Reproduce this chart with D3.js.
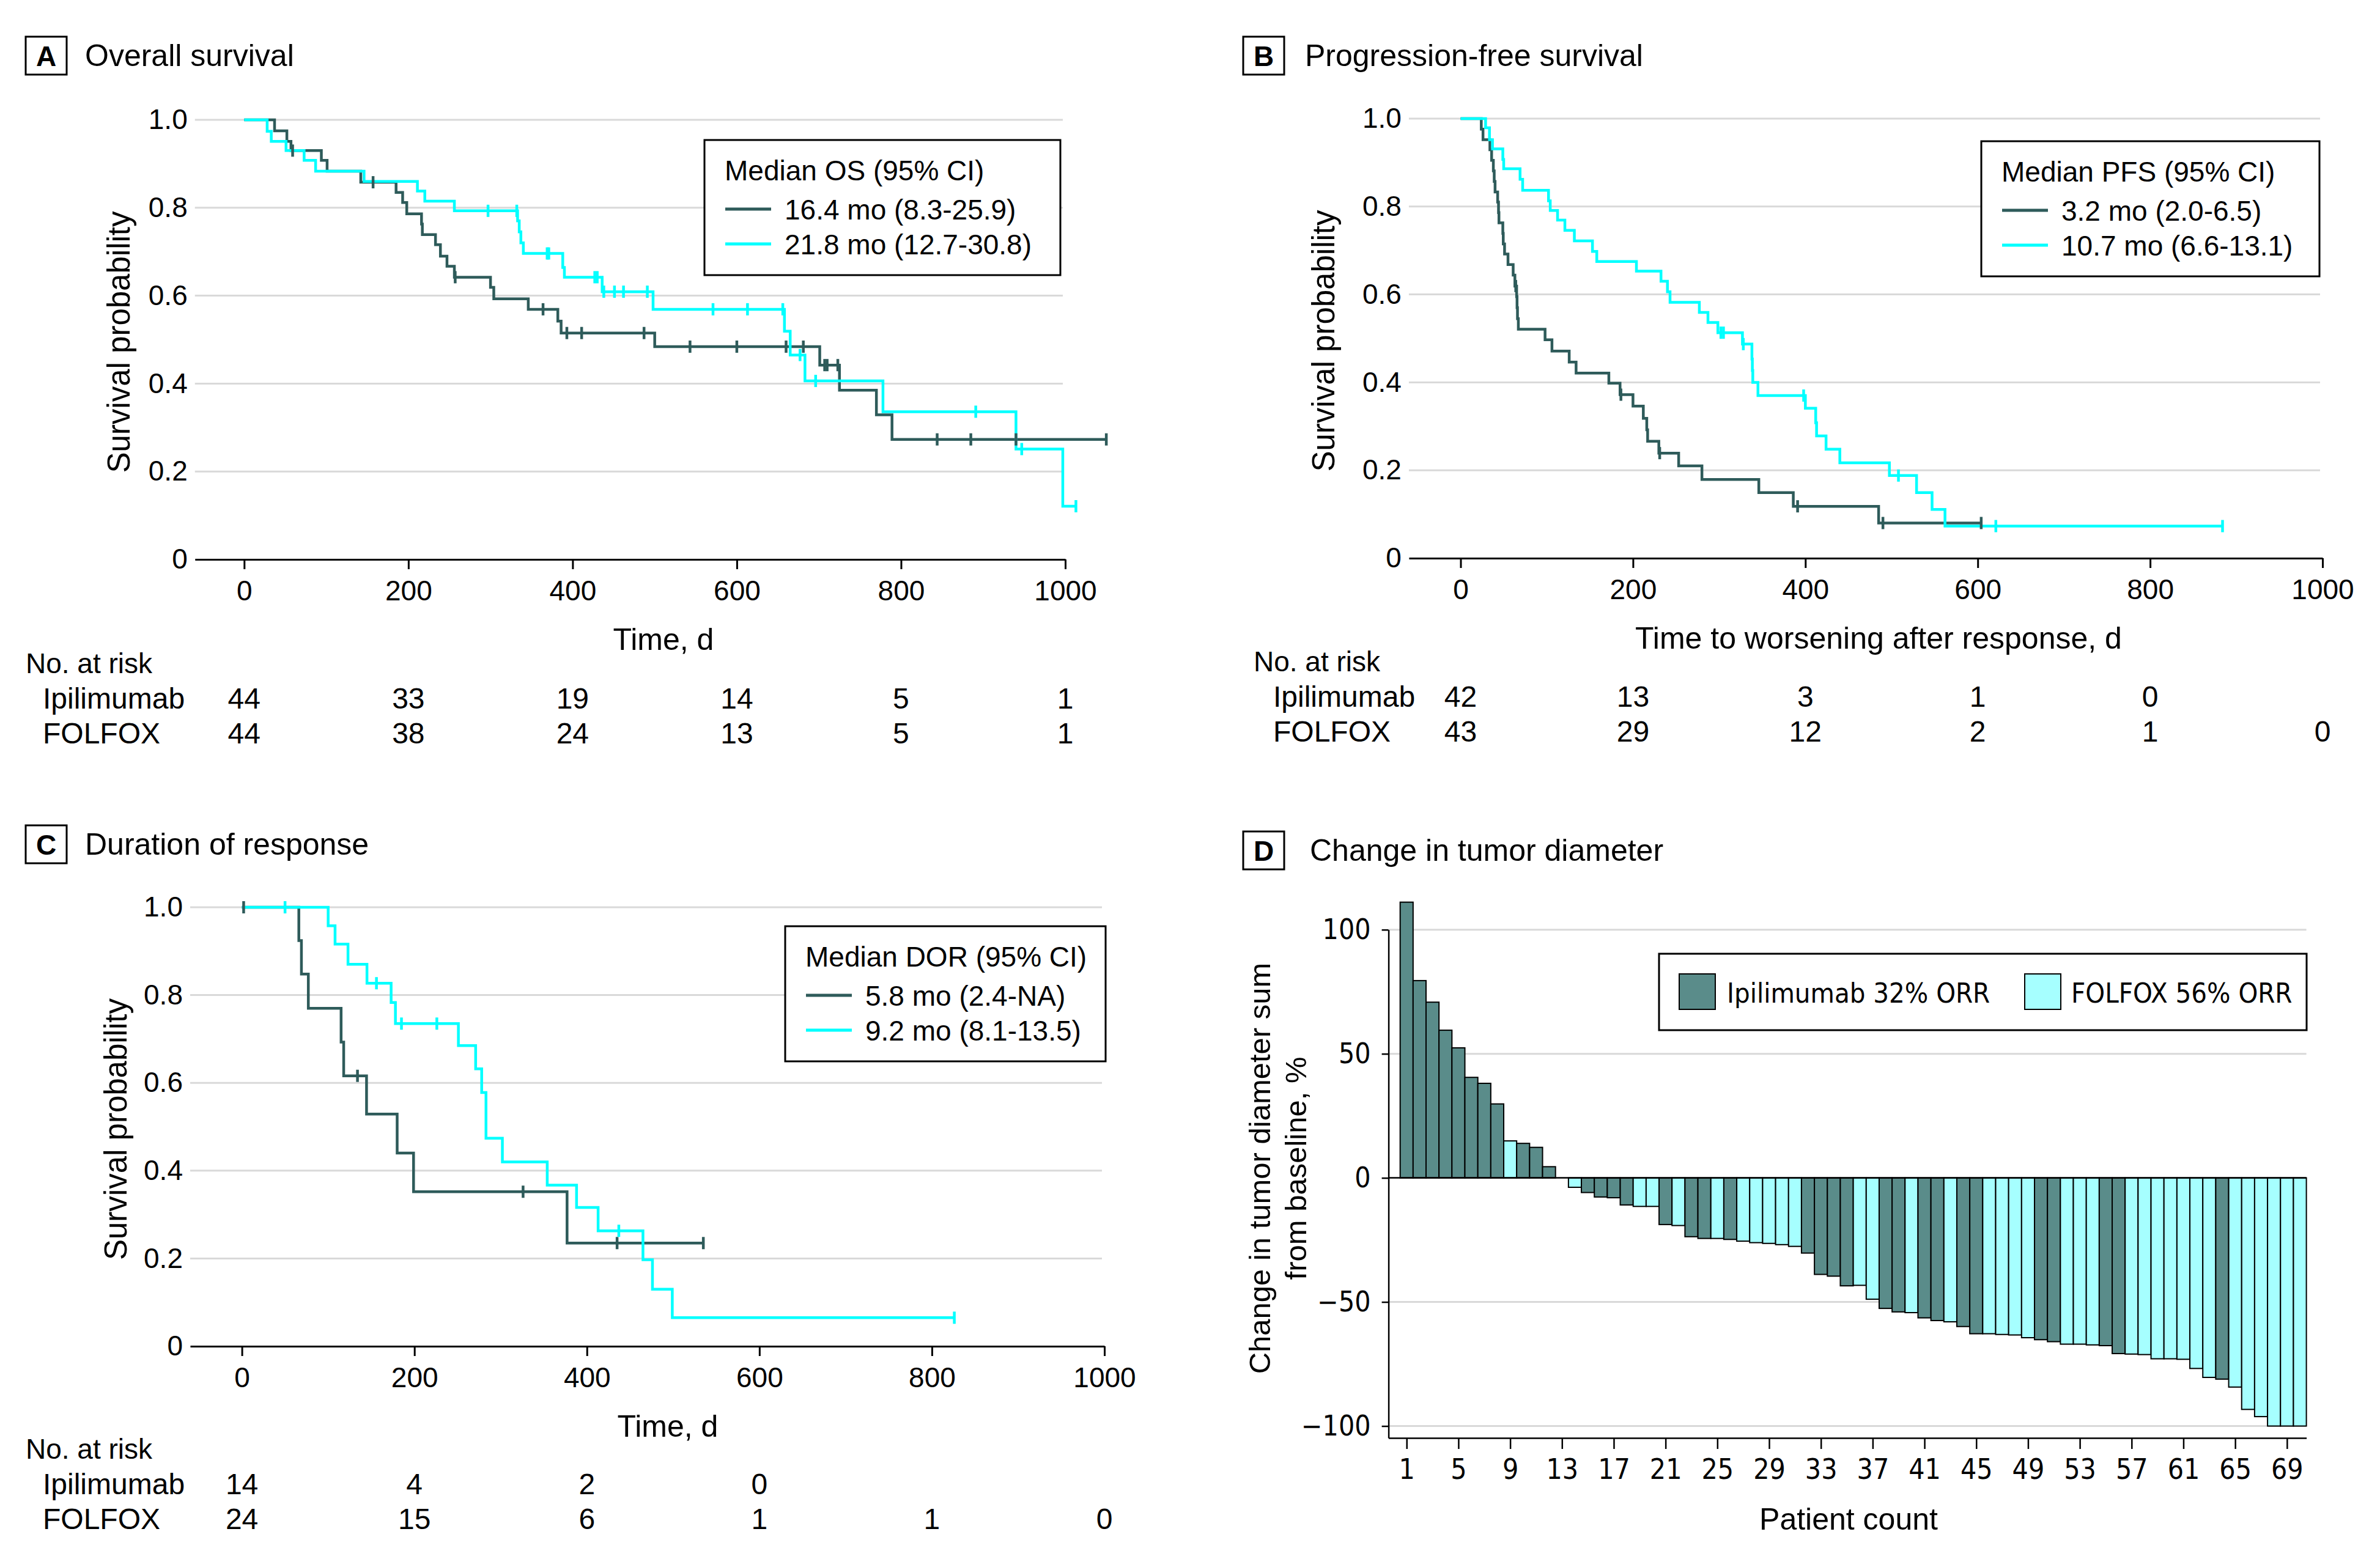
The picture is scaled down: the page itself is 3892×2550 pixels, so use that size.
<!DOCTYPE html>
<html><head><meta charset="utf-8">
<script src="https://cdn.jsdelivr.net/npm/d3@7"></script>
<style>
html,body{margin:0;padding:0;background:#fff;}
svg{display:block;}
</style></head><body>
<svg id="chart" width="3892" height="2550"></svg>
<script>
// ---------------- DATA ----------------
const timeTicks = [0, 200, 400, 600, 800, 1000];
const survTicks = [0, 0.2, 0.4, 0.6, 0.8, 1.0];
const armNames = ["Ipilimumab", "FOLFOX"];

// A: Overall survival
const osIpiTimes = [37,52,57,94,101,142,185,193,198,216,217,233,239,247,256,300,304,346,382,386,500,701,725,770,789];
const osIpiSurv  = [0.975,0.951,0.930,0.908,0.883,0.858,0.835,0.812,0.786,0.763,0.739,0.716,0.690,0.667,0.642,0.619,0.593,0.569,0.542,0.515,0.484,0.442,0.385,0.329,0.273];
const osIpiCensor = [59,157,257,364,393,411,487,543,600,660,681,707,710,723,844,885,940,1050];
const osFolTimes = [28,33,51,73,87,146,211,220,256,333,335,337,340,388,390,436,498,658,665,683,778,940,997];
const osFolSurv  = [0.974,0.951,0.930,0.908,0.883,0.860,0.838,0.815,0.793,0.770,0.745,0.720,0.696,0.664,0.642,0.609,0.569,0.519,0.465,0.406,0.336,0.251,0.121];
const osFolCensor = [297,332,369,371,427,430,438,451,462,491,571,613,656,677,696,891,947,1013];
const osRiskIpi = [44,33,19,14,5,1];
const osRiskFol = [44,38,24,13,5,1];
const osLegend = ["Median OS (95% CI)", "16.4 mo (8.3-25.9)", "21.8 mo (12.7-30.8)"];

// B: Progression-free survival
const pfsIpiTimes = [24,26,34,36,38,39,40,43,44,44.5,49,49.5,51,55,61,63,65,65.5,66,67,98,106,126,134,172,185,200,212,216,217,230,253,280,346,386,485];
const pfsIpiSurv  = [0.976,0.952,0.929,0.905,0.881,0.857,0.833,0.810,0.786,0.763,0.739,0.715,0.692,0.668,0.644,0.619,0.595,0.570,0.545,0.521,0.497,0.471,0.446,0.421,0.398,0.372,0.346,0.318,0.292,0.266,0.239,0.210,0.179,0.149,0.118,0.080];
const pfsIpiCensor = [64,186,231,391,490,604];
const pfsFolTimes = [29,33.5,37,49,50,69,72,102,104,112.5,121,132,153,158,204,232.5,240,243,277,287,298.5,327,338,338.5,339,345,400,412,413,424,440,497.5,529,547,562];
const pfsFolSurv  = [0.979,0.952,0.931,0.907,0.886,0.862,0.837,0.813,0.791,0.769,0.746,0.722,0.698,0.675,0.653,0.630,0.606,0.582,0.559,0.536,0.513,0.487,0.453,0.427,0.400,0.370,0.341,0.308,0.278,0.248,0.217,0.188,0.149,0.111,0.073];
const pfsFolCensor = [302,305,328,398,508,621,884];
const pfsRiskIpi = [42,13,3,1,0];
const pfsRiskFol = [43,29,12,2,1,0];
const pfsLegend = ["Median PFS (95% CI)", "3.2 mo (2.0-6.5)", "10.7 mo (6.6-13.1)"];

// C: Duration of response
const dorIpiTimes = [66,69,77,115,118,144.5,180,199,377];
const dorIpiSurv  = [0.924,0.848,0.770,0.693,0.616,0.529,0.440,0.352,0.235];
const dorIpiCensor = [2,134,326,435,535];
const dorFolTimes = [100,108,123,145,173,178,251,271,278,283,302,354,388,413,465,476,499];
const dorFolSurv  = [0.958,0.916,0.870,0.827,0.783,0.735,0.685,0.632,0.578,0.474,0.420,0.367,0.316,0.263,0.197,0.130,0.065];
const dorFolCensor = [50,156,185,226,437,826];
const dorRiskIpi = [14,4,2,0];
const dorRiskFol = [24,15,6,1,1,0];
const dorLegend = ["Median DOR (95% CI)", "5.8 mo (2.4-NA)", "9.2 mo (8.1-13.5)"];

// D: Change in tumor diameter (waterfall)
const tumorChange = [111.1,79.5,70.8,59.5,52.4,40.5,38.1,29.8,14.9,13.9,12.3,4.5,0,-3.8,-5.9,-7.7,-8.0,-10.9,-11.5,-11.5,
  -18.8,-19.2,-23.7,-24.4,-24.4,-24.8,-25.5,-26.1,-26.4,-26.9,-27.6,-30.3,-38.9,-39.6,-43.5,-43.3,-48.9,-52.6,-54.0,-54.3,
  -56.4,-57.5,-58.0,-59.9,-62.8,-62.8,-63.1,-63.3,-64.4,-65.2,-66.0,-67.0,-67.0,-67.3,-67.6,-70.8,-71.0,-71.2,-72.9,-72.9,
  -73.1,-76.8,-80.4,-81.1,-84.3,-93.3,-96.2,-100,-100,-100];
const tumorArm = ["I","I","I","I","I","I","I","I","F","I","I","I","I","F","I","I","I","I","F","F",
  "I","F","I","I","F","I","F","F","F","F","F","I","I","I","I","F","F","I","I","F",
  "I","I","F","I","I","F","F","F","F","I","I","F","F","F","I","I","F","F","F","F",
  "F","F","F","I","F","F","F","F","F","F"];
const patientTicks = [1,5,9,13,17,21,25,29,33,37,41,45,49,53,57,61,65,69];
const tumorTicks = [100,50,0,-50,-100];
const tumorLegend = ["Ipilimumab 32% ORR", "FOLFOX 56% ORR"];

// ---------------- STYLE ----------------
const FONT = '"Liberation Sans", Arial, "DejaVu Sans", sans-serif';
const DFONT = '"DejaVu Sans", "Liberation Sans", sans-serif';
const DARK = "#2e5b5a", CYAN = "#00ffff", GRID = "#d9d9d9";
const BAR_DARK = "#5a8c8a", BAR_LIGHT = "#a6ffff";

const svg = d3.select("#chart");
svg.append("rect").attr("width", 3892).attr("height", 2550).attr("fill", "#fff");

function addText(g, x, y, s, o = {}) {
  return g.append("text").attr("x", x).attr("y", y).text(s)
    .attr("font-size", o.size || 48)
    .attr("text-anchor", o.anchor || "start")
    .attr("dominant-baseline", o.base || "central")
    .attr("font-weight", o.weight || "normal")
    .attr("font-family", o.family || FONT)
    .attr("font-stretch", o.stretch || "normal")
    .attr("fill", "#000");
}

function panelLabel(g, bx, by, letter, title, titleDx) {
  g.append("rect").attr("x", bx).attr("y", by).attr("width", 67).attr("height", 62)
    .attr("fill", "none").attr("stroke", "#000").attr("stroke-width", 3);
  addText(g, bx + 33.5, by + 32, letter, {size: 46, anchor: "middle", weight: "bold"});
  addText(g, bx + titleDx, by + 31, title, {size: 50});
}

function survAt(times, surv, t) {
  let s = 1;
  for (let i = 0; i < times.length; i++) if (times[i] <= t) s = surv[i];
  return s;
}

function drawKM(c) {
  const ppu = (c.x1000 - c.x0) / 1000;
  const x = d3.scaleLinear().domain([-60, 1000]).range([c.x0 - 60 * ppu, c.x1000]);
  const y = d3.scaleLinear().domain([0, 1]).range([c.y0, c.y1]);
  const g = svg.append("g");

  panelLabel(g, c.boxX, c.boxY, c.letter, c.title, c.titleDx);

  // gridlines
  g.append("g").selectAll("line").data(survTicks.filter(d => d > 0)).join("line")
    .attr("x1", x(-60)).attr("x2", x(1000) - 4)
    .attr("y1", d => y(d)).attr("y2", d => y(d))
    .attr("stroke", GRID).attr("stroke-width", 3);

  // x axis
  const xa = g.append("g").attr("transform", `translate(0,${c.y0})`)
    .call(d3.axisBottom(x).tickValues(timeTicks).tickSize(16).tickSizeOuter(0).tickPadding(18)
      .tickFormat(d => String(d)));
  xa.select(".domain").attr("stroke", "#000").attr("stroke-width", 3);
  xa.selectAll(".tick line").attr("stroke", "#000").attr("stroke-width", 3);
  xa.selectAll("text").attr("font-size", 46).attr("font-family", FONT).attr("fill", "#000");

  // y axis labels
  const ya = g.append("g").attr("transform", `translate(${x(-60)},0)`)
    .call(d3.axisLeft(y).tickValues(survTicks).tickSize(0).tickPadding(12)
      .tickFormat(d => d === 0 ? "0" : d.toFixed(1)));
  ya.select(".domain").remove();
  ya.selectAll("text").attr("font-size", 46).attr("font-family", FONT).attr("fill", "#000");

  // axis titles
  addText(g, c.xTitleX, c.y0 + 131, c.xTitle, {size: 50, anchor: "middle"});
  g.append("text").attr("transform", `translate(${c.yTitleX},${(c.y0 + c.y1) / 2 + 4}) rotate(-90)`)
    .attr("text-anchor", "middle").attr("dy", "0.35em").attr("font-size", 51)
    .attr("font-family", FONT).attr("fill", "#000").text("Survival probability");

  // curves
  const line = d3.line().x(d => x(d[0])).y(d => y(d[1])).curve(d3.curveStepAfter);
  const series = [
    {t: c.ipiT, s: c.ipiS, cen: c.ipiC, col: DARK},
    {t: c.folT, s: c.folS, cen: c.folC, col: CYAN}
  ];
  series.forEach(sr => {
    const end = Math.max(d3.max(sr.t), d3.max(sr.cen));
    const pts = [[0, 1]].concat(sr.t.map((t, i) => [t, sr.s[i]]), [[end, sr.s[sr.s.length - 1]]]);
    g.append("path").attr("d", line(pts)).attr("fill", "none")
      .attr("stroke", sr.col).attr("stroke-width", 4.5).attr("stroke-linejoin", "miter");
  });
  series.forEach(sr => {
    g.append("g").selectAll("line").data(sr.cen).join("line")
      .attr("x1", d => x(d)).attr("x2", d => x(d))
      .attr("y1", d => y(survAt(sr.t, sr.s, d)) - 10)
      .attr("y2", d => y(survAt(sr.t, sr.s, d)) + 10)
      .attr("stroke", sr.col).attr("stroke-width", 4.5);
  });

  // legend
  const L = c.leg;
  g.append("rect").attr("x", L.x).attr("y", L.y).attr("width", L.w).attr("height", 221)
    .attr("fill", "#fff").attr("stroke", "#000").attr("stroke-width", 3);
  addText(g, L.x + 33, L.y + 50, c.legend[0], {size: 46});
  [DARK, CYAN].forEach((col, i) => {
    const yy = L.y + 113 + i * 57;
    g.append("line").attr("x1", L.x + 34).attr("x2", L.x + 109).attr("y1", yy).attr("y2", yy)
      .attr("stroke", col).attr("stroke-width", 5);
    addText(g, L.x + 131, yy + 1, c.legend[i + 1], {size: 46});
  });

  // number at risk
  addText(g, c.riskX, c.riskY[0], "No. at risk", {size: 46});
  [c.riskIpi, c.riskFol].forEach((arr, r) => {
    addText(g, c.riskRowX, c.riskY[r + 1], armNames[r], {size: 48});
    arr.forEach((v, i) => addText(g, x(timeTicks[i]), c.riskY[r + 1], v, {size: 48, anchor: "middle"}));
  });
}

drawKM({
  letter: "A", title: "Overall survival", boxX: 42, boxY: 60, titleDx: 97,
  x0: 399.3, x1000: 1742, y0: 915, y1: 196,
  xTitle: "Time, d", xTitleX: 1085, yTitleX: 194,
  ipiT: osIpiTimes, ipiS: osIpiSurv, ipiC: osIpiCensor,
  folT: osFolTimes, folS: osFolSurv, folC: osFolCensor,
  leg: {x: 1152, y: 229, w: 582}, legend: osLegend,
  riskX: 42, riskRowX: 70, riskY: [1085, 1142, 1199],
  riskIpi: osRiskIpi, riskFol: osRiskFol
});

drawKM({
  letter: "B", title: "Progression-free survival", boxX: 2033, boxY: 60, titleDx: 101,
  x0: 2388.5, x1000: 3798, y0: 913, y1: 194,
  xTitle: "Time to worsening after response, d", xTitleX: 3072, yTitleX: 2164,
  ipiT: pfsIpiTimes, ipiS: pfsIpiSurv, ipiC: pfsIpiCensor,
  folT: pfsFolTimes, folS: pfsFolSurv, folC: pfsFolCensor,
  leg: {x: 3240, y: 231, w: 553}, legend: pfsLegend,
  riskX: 2050, riskRowX: 2082, riskY: [1082, 1139, 1196],
  riskIpi: pfsRiskIpi, riskFol: pfsRiskFol
});

drawKM({
  letter: "C", title: "Duration of response", boxX: 42, boxY: 1350, titleDx: 97,
  x0: 395.6, x1000: 1806, y0: 2202, y1: 1484,
  xTitle: "Time, d", xTitleX: 1092, yTitleX: 189,
  ipiT: dorIpiTimes, ipiS: dorIpiSurv, ipiC: dorIpiCensor,
  folT: dorFolTimes, folS: dorFolSurv, folC: dorFolCensor,
  leg: {x: 1284, y: 1515, w: 524}, legend: dorLegend,
  riskX: 42, riskRowX: 70, riskY: [2370, 2427, 2484],
  riskIpi: dorRiskIpi, riskFol: dorRiskFol
});

// ---------------- PANEL D ----------------
(function () {
  const g = svg.append("g");
  panelLabel(g, 2033, 1360, "D", "Change in tumor diameter", 109);
  const x = d3.scaleLinear().domain([-0.4, 70.5]).range([2270.6, 3771.6]);
  const y = d3.scaleLinear().domain([-104.8, 100]).range([2352, 1520.7]);

  // gridlines
  g.append("g").selectAll("line").data(tumorTicks.filter(d => d !== 0)).join("line")
    .attr("x1", x(-0.4)).attr("x2", x(70.5)).attr("y1", d => y(d)).attr("y2", d => y(d))
    .attr("stroke", GRID).attr("stroke-width", 3);

  // bars
  g.append("g").selectAll("rect").data(tumorChange).join("rect")
    .attr("x", (d, i) => x(i + 0.5))
    .attr("width", (d, i) => x(i + 1.5) - x(i + 0.5))
    .attr("y", d => y(Math.max(d, 0)))
    .attr("height", d => Math.abs(y(d) - y(0)))
    .attr("fill", (d, i) => tumorArm[i] === "I" ? BAR_DARK : BAR_LIGHT)
    .attr("stroke", "#000").attr("stroke-width", 2)
    .attr("display", d => d === 0 ? "none" : null);

  // zero line
  g.append("line").attr("x1", x(-0.4)).attr("x2", x(70.5)).attr("y1", y(0)).attr("y2", y(0))
    .attr("stroke", "#000").attr("stroke-width", 2.5);

  // axes
  const xa = g.append("g").attr("transform", `translate(0,${y(-104.8)})`)
    .call(d3.axisBottom(x).tickValues(patientTicks).tickSize(18).tickSizeOuter(0).tickPadding(16));
  xa.select(".domain").attr("stroke", "#000").attr("stroke-width", 2.5);
  xa.selectAll(".tick line").attr("stroke", "#000").attr("stroke-width", 2.5);
  xa.selectAll("text").attr("font-size", 46).attr("font-family", DFONT)
    .attr("font-stretch", "condensed").attr("fill", "#000");

  const ya = g.append("g").attr("transform", `translate(${x(-0.4)},0)`)
    .call(d3.axisLeft(y).tickValues(tumorTicks).tickSize(11).tickSizeOuter(0).tickPadding(18));
  ya.select(".domain").attr("stroke", "#000").attr("stroke-width", 2.5);
  ya.selectAll(".tick line").attr("stroke", "#000").attr("stroke-width", 2.5);
  ya.selectAll("text").attr("font-size", 46).attr("font-family", DFONT)
    .attr("font-stretch", "condensed").attr("fill", "#000");

  // axis titles
  const yt = g.append("text").attr("transform", `translate(2091,1911) rotate(-90)`)
    .attr("text-anchor", "middle").attr("font-size", 49).attr("font-family", FONT).attr("fill", "#000");
  yt.append("tspan").attr("x", 0).attr("dy", "-0.28em").text("Change in tumor diameter sum");
  yt.append("tspan").attr("x", 0).attr("dy", "1.2em").text("from baseline, %");
  addText(g, 3023, 2485, "Patient count", {size: 50, anchor: "middle"});

  // legend
  g.append("rect").attr("x", 2713).attr("y", 1560).attr("width", 1059).attr("height", 125)
    .attr("fill", "#fff").attr("stroke", "#000").attr("stroke-width", 3);
  [[2746, BAR_DARK, 2824], [3311, BAR_LIGHT, 3387]].forEach((l, i) => {
    g.append("rect").attr("x", l[0]).attr("y", 1593).attr("width", 59).attr("height", 58)
      .attr("fill", l[1]).attr("stroke", "#000").attr("stroke-width", 2);
    addText(g, l[2], 1624, tumorLegend[i], {size: 45, family: DFONT, stretch: "condensed"});
  });
})();
</script>
</body></html>
